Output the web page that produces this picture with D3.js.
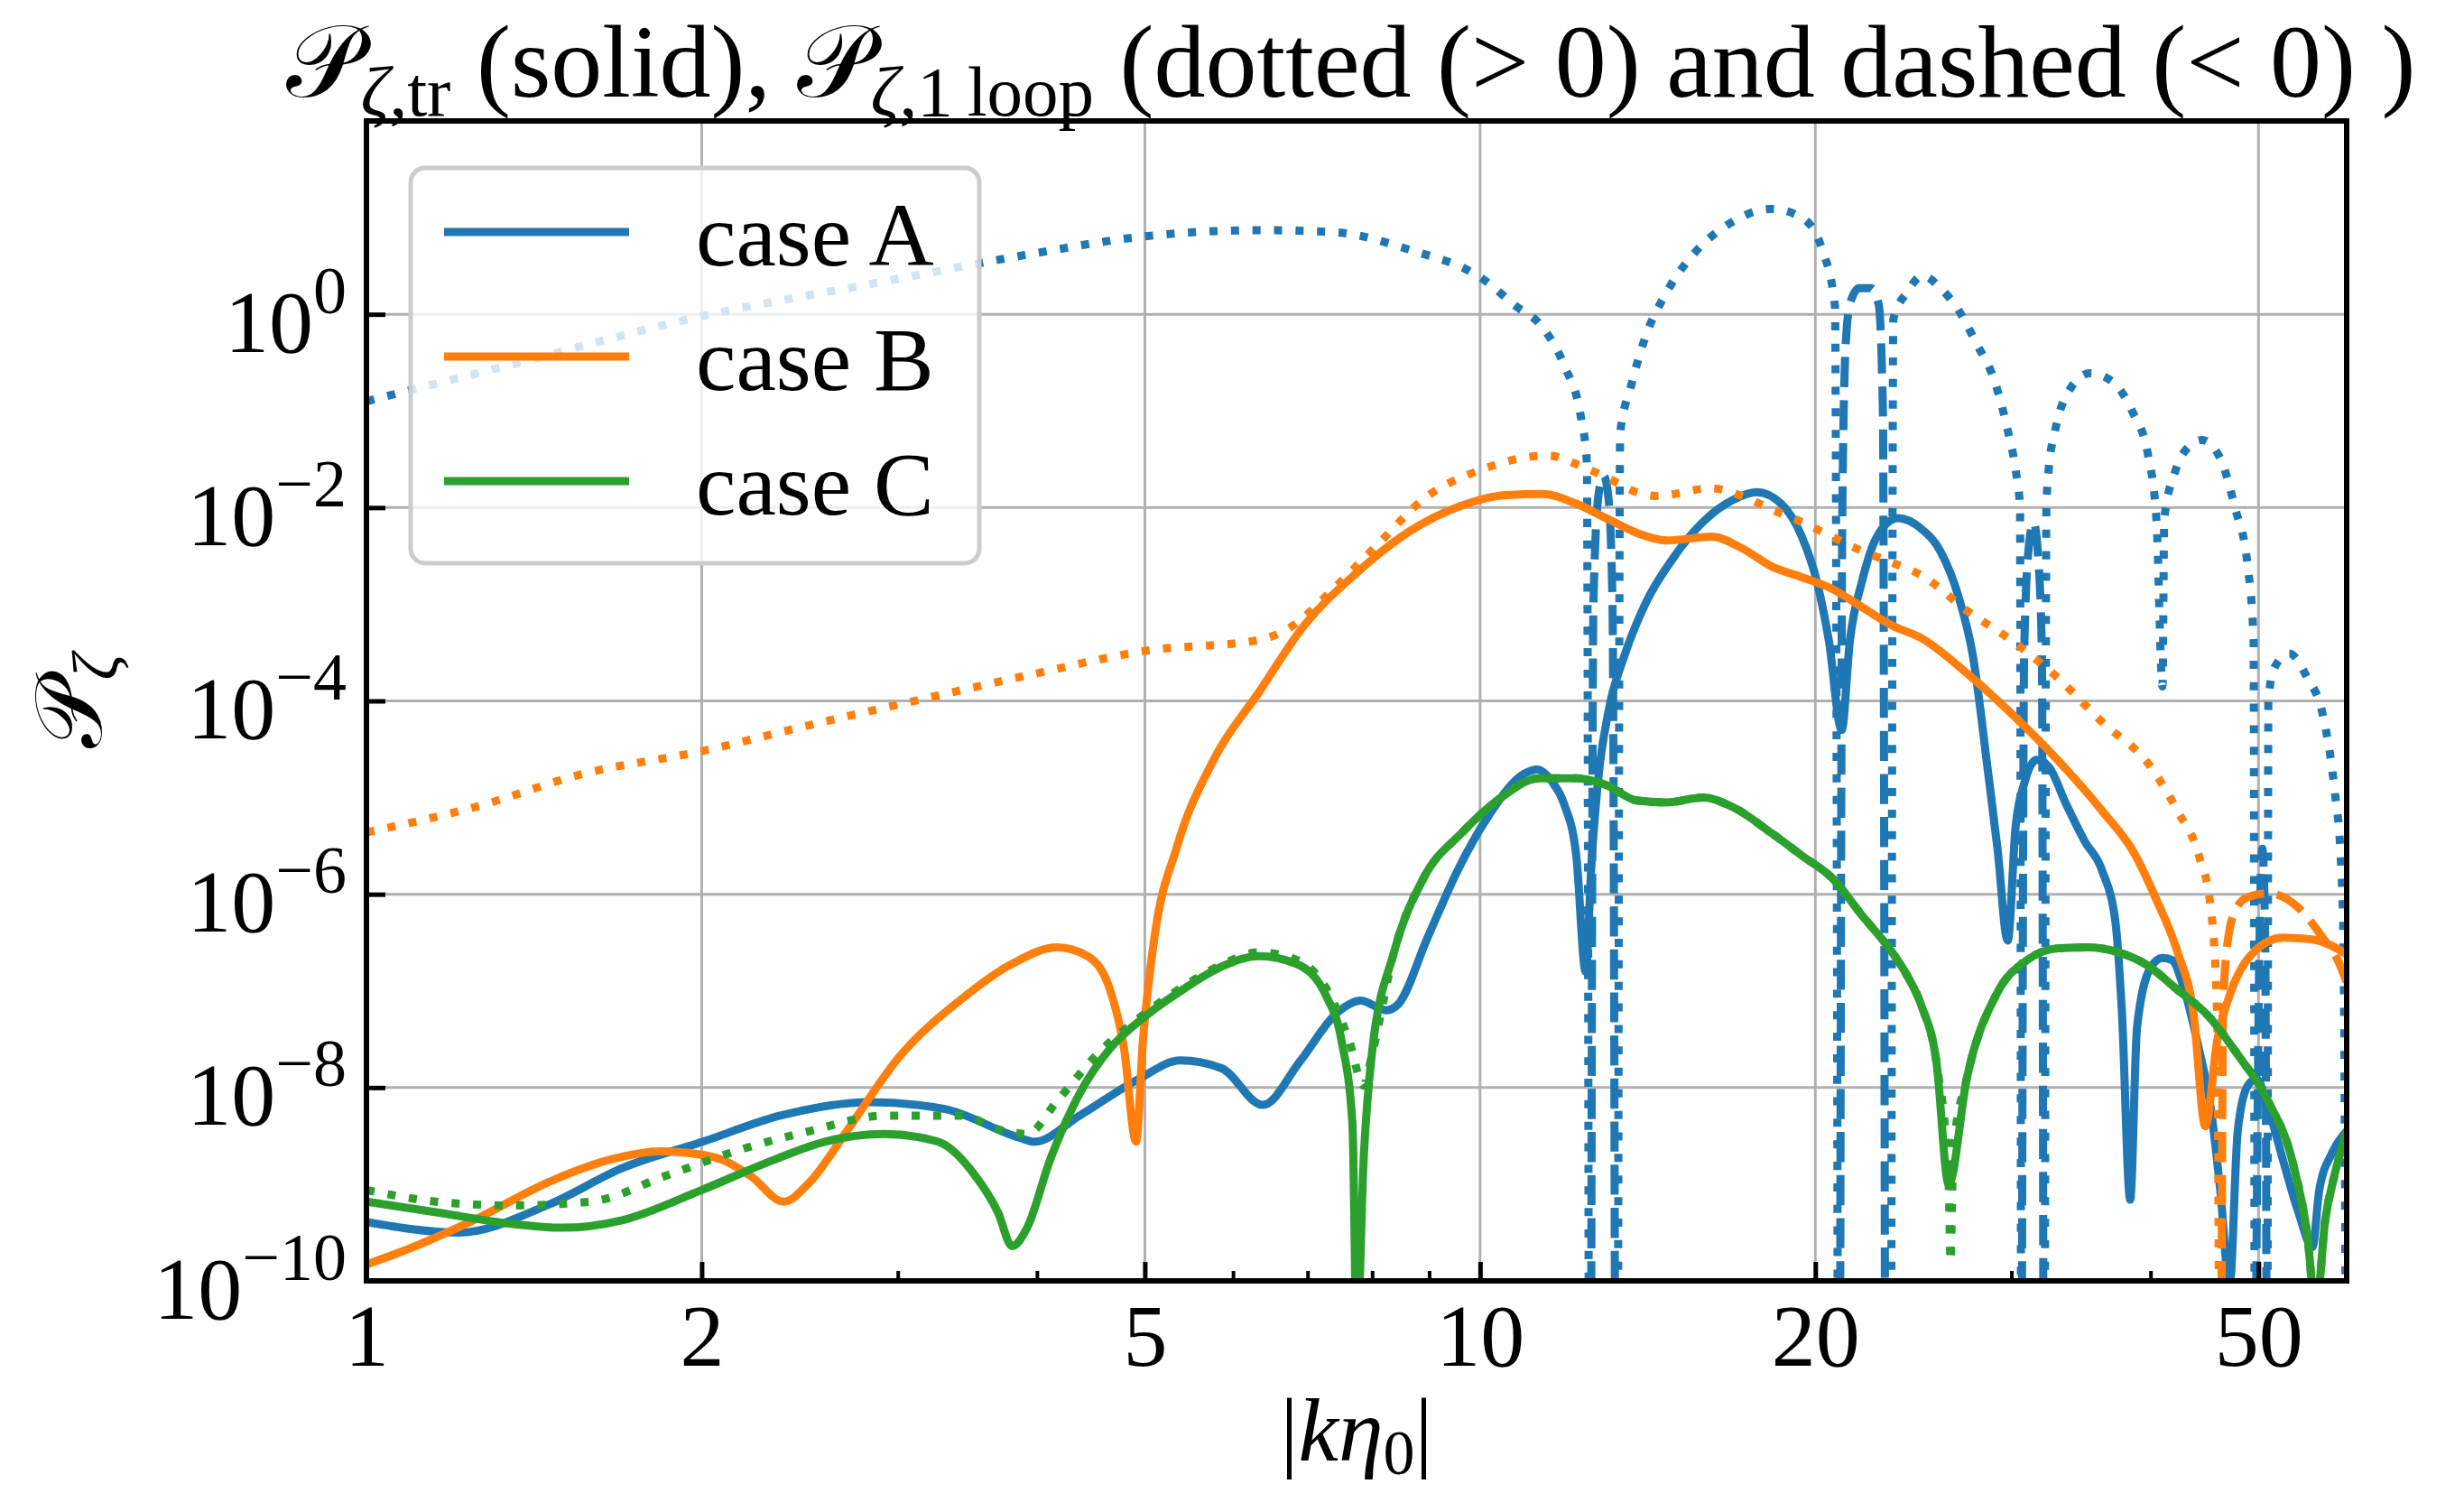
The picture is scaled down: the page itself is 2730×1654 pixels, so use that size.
<!DOCTYPE html>
<html>
<head>
<meta charset="utf-8">
<script src="https://cdn.jsdelivr.net/npm/d3@7"></script>
<style>
  body { margin: 0; background: #fff; }
  text { font-family: "Liberation Serif", "DejaVu Serif", serif; }
</style>
</head>
<body>
<svg width="2730" height="1654"></svg>
<script>
// points are [|k eta0|, log10 P]

const aTree = [[1.00,-9.39],[1.21,-9.50],[1.455,-9.215],[1.70,-8.83],[2.005,-8.56],[2.353,-8.29],[2.83,-8.15],[3.30,-8.22],
  [3.86,-8.52],[3.98,-8.56],[4.37,-8.29],[4.94,-7.91],[5.38,-7.72],[5.86,-7.80],[6.38,-8.18],[6.90,-7.72],[7.45,-7.22],
  [7.81,-7.10],[8.24,-7.20],[8.44,-7.14],[8.97,-6.45],[9.55,-5.75],[10.15,-5.21],[10.97,-4.75],[11.25,-4.71],[11.61,-4.84],
  [11.9,-5.07],[12.2,-5.60],[12.44,-6.80],[12.59,-5.68],[12.78,-4.76],[13.06,-4.07],[13.48,-3.53],[14.08,-2.99],[14.89,-2.53],
  [15.85,-2.15],[16.87,-1.92],[17.72,-1.84],[18.62,-1.955],[19.45,-2.30],[20.06,-2.76],[20.57,-3.38],[21.12,-4.30],[21.48,-3.38],
  [22.03,-2.76],[22.72,-2.30],[23.73,-2.11],[24.9,-2.22],[25.9,-2.45],[26.89,-2.92],[27.7,-3.53],[28.6,-4.76],[29.15,-5.53],
  [29.77,-6.48],[30.26,-5.30],[30.83,-4.84],[31.6,-4.61],[32.4,-4.68],[33.6,-5.07],[34.9,-5.45],[36.2,-5.76],[37.2,-6.29],
  [37.7,-7.22],[38.35,-9.16],[38.9,-7.37],[40.0,-6.76],[41.0,-6.66],[41.8,-6.68],[42.9,-6.99],[44.2,-7.60],[45.3,-8.21],
  [46.2,-9.06],[47.1,-10.05],[47.9,-8.45],[48.9,-7.98],[49.8,-7.91],[51.0,-8.21],[52.6,-8.75],[54.3,-9.29],[55.9,-9.65],
  [56.7,-9.06],[58.2,-8.68],[60,-8.45]];

const aLoop = [[1.0,-0.90],[1.35,-0.52],[2.0,-0.02],[2.92,0.34],[3.98,0.63],[4.94,0.80],[6.33,0.87],[7.39,0.85],[8.63,0.67],
  [10.07,0.36],[10.78,0.08],[11.33,-0.11],[11.9,-0.53],[12.32,-1.07],[12.47,-1.53],[12.52,-11],
  [12.58,-11],[12.64,-3.0],[12.78,-1.85],[12.91,-1.67],[13.04,-1.9],[13.15,-3.0],[13.22,-11],
  [13.30,-11],[13.36,-1.23],[13.65,-0.76],[14.08,-0.23],[14.71,0.23],[15.65,0.66],[16.65,0.92],[18.28,1.09],[19.45,1.00],
  [20.3,0.66],[20.83,0.08],[20.95,-11],
  [21.05,-11],[21.15,-2.0],[21.3,-0.3],[21.5,0.12],[21.9,0.27],[22.45,0.27],[22.8,0.10],[23.0,-1.0],[23.1,-11],
  [23.4,-11],[23.5,-0.05],[24.19,0.23],[24.95,0.40],[25.9,0.27],[26.9,0.04],[27.9,-0.30],[28.97,-0.69],[29.7,-1.15],
  [30.26,-1.61],[30.54,-2.0],[30.6,-11],
  [30.65,-11],[30.8,-3.5],[31.1,-2.4],[31.4,-2.15],[31.7,-2.5],[31.95,-3.5],[32.05,-11],
  [32.15,-11],[32.25,-2.0],[32.4,-1.61],[32.8,-1.23],[33.6,-0.84],[35.3,-0.61],[36.9,-0.69],[38.5,-1.00],[39.8,-1.46],
  [40.5,-2.15],[41.0,-3.85],[41.15,-2.12],[42.05,-1.64],[42.9,-1.42],[44.5,-1.30],[46.2,-1.49],[47.6,-1.99],[48.9,-2.61],
  [49.5,-3.38],[49.6,-11],
  [49.7,-11],[50.1,-6.5],[50.4,-5.53],[50.7,-6.5],[50.85,-11],
  [50.95,-11],[51.03,-3.99],[51.7,-3.65],[53.3,-3.51],[55.3,-3.76],[57.1,-4.14],[58.5,-4.91],[59.3,-5.68],[59.6,-6.45],[59.9,-11]];
const aLoopNeg = [[12.55,13.25],[21.0,23.2],[30.62,32.1],[49.65,50.9]];

const bTree = [[1.00,-9.83],[1.085,-9.68],[1.25,-9.37],[1.456,-8.98],[1.65,-8.75],[1.84,-8.66],[2.05,-8.72],[2.21,-8.91],
  [2.37,-9.18],[2.50,-8.98],[2.70,-8.45],[3.01,-7.68],[3.41,-7.10],[3.80,-6.72],[4.17,-6.55],[4.44,-6.64],[4.65,-6.98],
  [4.79,-7.60],[4.91,-8.56],[4.98,-7.52],[5.10,-6.45],[5.34,-5.52],[5.77,-4.60],[6.33,-3.91],[6.95,-3.22],[7.74,-2.68],
  [8.63,-2.25],[9.62,-1.98],[10.55,-1.87],[11.4,-1.86],[12.2,-1.96],[12.98,-2.11],[13.82,-2.26],[14.71,-2.34],[16.14,-2.30],
  [17.18,-2.42],[18.28,-2.61],[19.45,-2.72],[20.7,-2.84],[22.03,-3.03],[23.44,-3.22],[24.9,-3.35],[27.4,-3.72],[30.06,-4.14],
  [33.0,-4.61],[36.2,-5.14],[38.6,-5.56],[40.5,-6.06],[42.3,-6.60],[43.7,-7.22],[44.8,-8.40],[45.9,-7.52],[47.3,-6.99],
  [49.5,-6.60],[52.6,-6.45],[56.0,-6.47],[60,-6.62]];

const bLoop = [[1.0,-5.36],[1.25,-5.10],[1.57,-4.75],[2.0,-4.52],[2.5,-4.25],[3.16,-3.98],[3.98,-3.72],[5.02,-3.48],
  [6.33,-3.37],[6.73,-3.25],[7.4,-2.83],[8.11,-2.37],[8.9,-1.91],[10.07,-1.60],[11.5,-1.46],[12.2,-1.55],[13.0,-1.69],
  [13.82,-1.84],[14.4,-1.88],[16.1,-1.80],[17.18,-1.88],[18.28,-2.02],[19.45,-2.15],[20.7,-2.30],[22.03,-2.45],[23.44,-2.57],
  [24.9,-2.70],[27.4,-3.07],[30.06,-3.38],[33.0,-3.76],[36.2,-4.22],[40.0,-4.68],[42.3,-5.14],[44.2,-5.60],[45.3,-6.14],
  [45.9,-7.22],[46.1,-11],
  [46.3,-11],[46.47,-7.22],[46.8,-6.60],[47.6,-6.18],[48.9,-6.03],[51.0,-5.99],[54.3,-6.14],[57.1,-6.45],[58.9,-6.68],[60,-6.91]];
const bLoopNeg = [[46.2,61]];

const cTree = [[1.00,-9.18],[1.155,-9.29],[1.35,-9.41],[1.50,-9.45],[1.70,-9.37],[2.0,-9.06],[2.32,-8.75],[2.58,-8.56],
  [2.92,-8.48],[3.26,-8.56],[3.52,-8.91],[3.69,-9.29],[3.80,-9.64],[3.92,-9.45],[4.11,-8.75],[4.37,-8.06],[4.65,-7.60],
  [5.02,-7.25],[5.42,-6.98],[5.86,-6.75],[6.33,-6.64],[6.84,-6.72],[7.28,-7.06],[7.51,-7.52],[7.68,-8.37],[7.75,-10.6],
  [7.86,-8.75],[7.99,-7.68],[8.37,-6.60],[8.90,-5.83],[9.62,-5.37],[10.39,-5.02],[11.3,-4.80],[12.2,-4.80],[12.98,-4.87],
  [13.82,-5.03],[14.71,-5.05],[15.85,-5.00],[16.87,-5.10],[18.28,-5.37],[19.45,-5.60],[20.7,-5.83],[22.03,-6.22],[23.44,-6.60],
  [24.15,-6.83],[24.9,-7.15],[25.7,-7.75],[26.35,-9.0],[27.35,-7.91],[29.1,-7.03],[31.0,-6.68],[33.0,-6.56],[35.1,-6.55],
  [37.4,-6.60],[39.8,-6.74],[42.3,-6.99],[45.0,-7.25],[47.9,-7.66],[51.0,-8.14],[53.6,-8.75],[55.3,-9.52],[56.3,-10.3],
  [57.4,-9.37],[58.5,-8.91],[60,-8.45]];

const cLoop = [[1.0,-9.06],[1.155,-9.18],[1.35,-9.22],[1.59,-9.18],[1.86,-8.91],[2.17,-8.64],[2.50,-8.45],[2.92,-8.29],
  [3.41,-8.29],[3.74,-8.45],[3.92,-8.48],[4.17,-8.14],[4.51,-7.68],[5.02,-7.22],[5.42,-6.95],[5.86,-6.73],[6.33,-6.60],
  [6.84,-6.68],[7.28,-6.98],[7.63,-7.52],[7.86,-7.98],[7.99,-7.68],[8.37,-6.60],[8.90,-5.83],[9.62,-5.37],[10.39,-5.02],
  [11.3,-4.80],[12.2,-4.80],[12.98,-4.87],[13.82,-5.03],[14.71,-5.05],[15.85,-5.00],[16.87,-5.10],[18.28,-5.37],[19.45,-5.60],
  [20.7,-5.83],[22.03,-6.22],[23.44,-6.60],[24.15,-6.83],[24.9,-7.15],[25.7,-7.75],[26.35,-9.0],[26.45,-9.8],[26.6,-8.65],
  [27.35,-7.91],[29.1,-7.03],[31.0,-6.68],[33.0,-6.56],[35.1,-6.55],[37.4,-6.60],[39.8,-6.74],[42.3,-6.99],[45.0,-7.25],
  [47.9,-7.66],[51.0,-8.14],[53.6,-8.75],[55.3,-9.52],[56.3,-10.3],[57.4,-9.37],[58.5,-8.91],[60,-8.45]];
const cLoopNeg = [];

const cases = ['case A','case B','case C'];
const colors = ['#1f77b4','#ff7f0e','#2ca02c'];
const xMajor = [1,2,5,10,20,50], xMinor = [3,4,6,7,8,9,30,40];
const yMajor = [-10,-8,-6,-4,-2,0];

const svg = d3.select('svg'),
    margin = {top:134,right:130,bottom:235,left:406},
    width = 2730 - margin.left - margin.right,
    height = 1654 - margin.top - margin.bottom,
    x = d3.scaleLog().domain([1,60]).range([0,width]),
    y = d3.scaleLog().domain([1e-10,1e2]).range([height,0]),
    chart = svg.append("g")
      .attr("transform", "translate(" + margin.left + "," + margin.top + ")");

svg.insert('rect', ':first-child').attr('width',2730).attr('height',1654).attr('fill','#fff');

// grid
const grid = chart.append('g').attr('stroke','#b0b0b0').attr('stroke-width',3);
grid.selectAll('.gx').data(xMajor).join('line').attr('class','gx')
    .attr('x1', d => x(d)).attr('x2', d => x(d)).attr('y1',0).attr('y2',height);
grid.selectAll('.gy').data(yMajor).join('line').attr('class','gy')
    .attr('y1', d => y(10 ** d)).attr('y2', d => y(10 ** d)).attr('x1',0).attr('x2',width);

svg.append('defs').append('clipPath').attr('id','plot')
  .append('rect').attr('width',width).attr('height',height);

const line = d3.line().x(d => x(d[0])).y(d => y(10 ** d[1])).curve(d3.curveMonotoneX);

// split the 1-loop curve into runs of the same sign
function signedRuns(pts, neg) {
  const isNeg = k => neg.some(([a,b]) => k > a && k < b);
  const runs = [];
  pts.forEach(p => {
    const s = isNeg(p[0]), last = runs[runs.length-1];
    if (last && last.neg === s) last.pts.push(p); else runs.push({neg:s, pts:[p]});
  });
  return runs;
}

const lw = 9;
const series = [
  {tree:aTree, loop:aLoop, neg:aLoopNeg},
  {tree:bTree, loop:bLoop, neg:bLoopNeg},
  {tree:cTree, loop:cLoop, neg:cLoopNeg}
];
const lines = chart.append('g').attr('clip-path','url(#plot)').attr('fill','none');
series.forEach((s,i) => {
  lines.append('path').attr('d', line(s.tree)).attr('stroke', colors[i]).attr('stroke-width', lw);
  signedRuns(s.loop, s.neg).forEach(r => {
    lines.append('path').attr('d', line(r.pts)).attr('stroke', colors[i]).attr('stroke-width', lw)
      .attr('stroke-dasharray', r.neg ? `${3.7*lw},${1.6*lw}` : `${lw},${1.65*lw}`);
  });
});

// axes
const xAxis = chart.append("g")
    .attr("transform", "translate(0," + height + ")")
    .call(d3.axisBottom(x).tickValues(xMajor).tickFormat(d3.format('d')).tickSize(-21).tickPadding(24));
chart.append("g")
    .attr("transform", "translate(0," + height + ")")
    .call(d3.axisBottom(x).tickValues(xMinor).tickFormat('').tickSize(-11))
    .call(g => g.select('.domain').remove())
    .selectAll('line').attr('stroke-width',4);
xAxis.select('.domain').remove();
xAxis.attr('font-size',98).attr('font-family','Liberation Serif');
xAxis.selectAll('line').attr('stroke-width',5);

const yAxis = chart.append("g")
    .call(d3.axisLeft(y).tickValues(yMajor.map(e => 10 ** e)).tickSize(-21).tickPadding(22).tickFormat(() => '10'));
yAxis.select('.domain').remove();
yAxis.attr('font-size',98).attr('font-family','Liberation Serif');
yAxis.selectAll('line').attr('stroke-width',5);
yAxis.selectAll('.tick text').attr('dy',null).attr('y',41).each(function(d) {
  const e = Math.round(Math.log10(d));
  d3.select(this).append('tspan').attr('font-size',74).attr('dy',-43).text(e === 0 ? '0' : '\u2212' + (-e));
});

chart.append('rect').attr('width',width).attr('height',height)
  .attr('fill','none').attr('stroke','#000').attr('stroke-width',6);

// titles
const title = svg.append('text').attr('x',1497).attr('y',107).attr('text-anchor','middle').attr('font-size',114);
title.append('tspan').text('\u{1D4AB}');
title.append('tspan').attr('font-size',79).attr('dy',21).attr('font-style','italic').text('\u03B6');
title.append('tspan').attr('font-size',79).text(',tr');
title.append('tspan').attr('dy',-21).text(' (solid),  ');
title.append('tspan').text('\u{1D4AB}');
title.append('tspan').attr('font-size',79).attr('dy',21).attr('font-style','italic').text('\u03B6');
title.append('tspan').attr('font-size',79).text(',1\u2009loop');
title.append('tspan').attr('dy',-21).text(' (dotted (> 0) and dashed (< 0) )');

const xLabel = svg.append('text').attr('x', margin.left + width/2).attr('y',1618)
  .attr('text-anchor','middle').attr('font-size',100);
xLabel.append('tspan').text('|');
xLabel.append('tspan').attr('font-style','italic').text('k\u03B7');
xLabel.append('tspan').attr('font-size',70).attr('dy',15).text('0');
xLabel.append('tspan').attr('dy',-15).text('|');

const yLabel = svg.append('text').attr('transform', `translate(112,${margin.top + height/2}) rotate(-90)`)
  .attr('text-anchor','middle').attr('font-size',104);
yLabel.append('tspan').text('\u{1D4AB}');
yLabel.append('tspan').attr('font-size',72).attr('dy',18).attr('font-style','italic').text('\u03B6');

// legend
const legend = svg.append('g');
legend.append('rect').attr('x',455).attr('y',186).attr('width',630).attr('height',438).attr('rx',16)
  .attr('fill','#fff').attr('fill-opacity',0.8).attr('stroke','#cccccc').attr('stroke-width',5);
cases.forEach((c,i) => {
  const ly = 257 + i * 138;
  legend.append('line').attr('x1',492).attr('x2',697).attr('y1',ly).attr('y2',ly)
    .attr('stroke',colors[i]).attr('stroke-width',lw);
  legend.append('text').attr('x',771).attr('y',ly + 37).attr('font-size',100).text(c);
});
</script>
</body>
</html>
